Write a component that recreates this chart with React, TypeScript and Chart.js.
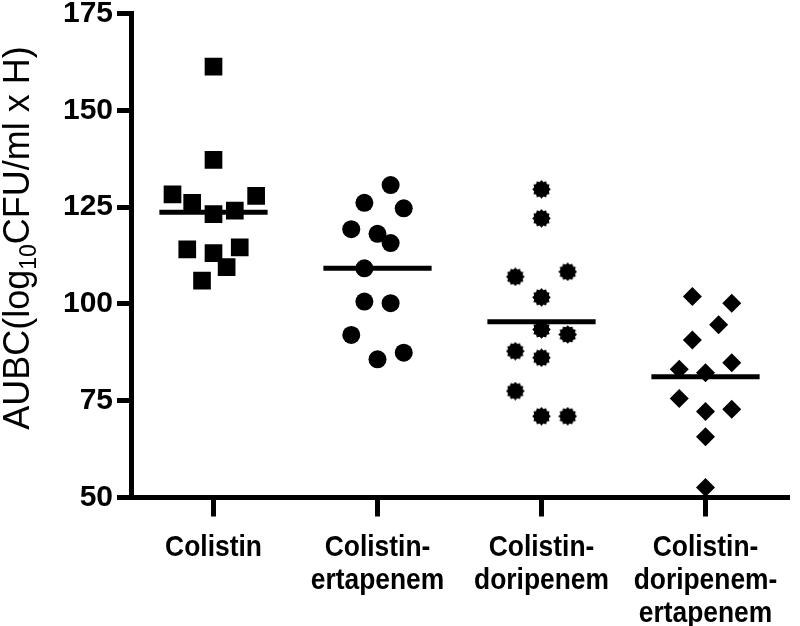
import React, { useEffect, useRef } from "react";
import { Chart, registerables } from "chart.js";

Chart.register(...registerables);

// ---- data ----
const categories: string[][] = [
  ["Colistin"],
  ["Colistin-", "ertapenem"],
  ["Colistin-", "doripenem"],
  ["Colistin-", "doripenem-", "ertapenem"],
];
const yTicks = [50, 75, 100, 125, 150, 175];

const colistinValues = [161.3, 137.2, 128.3, 126.1, 127.9, 123.2, 124.1, 114.1, 113.1, 114.6, 109.5, 106.0];
const colistinJitter = [0, 0, -0.25, -0.13, 0.26, 0, 0.13, -0.16, 0, 0.16, 0.08, -0.07];

const colErtValues = [130.7, 126.1, 124.7, 119.3, 118.1, 115.7, 109.2, 100.6, 100.2, 92.0, 85.7, 87.4];
const colErtJitter = [0.08, -0.08, 0.16, -0.16, 0, 0.08, -0.08, -0.08, 0.08, -0.16, 0, 0.16];

const colDorValues = [129.6, 122.1, 107.0, 108.3, 101.7, 93.4, 92.1, 87.8, 86.1, 77.5, 71.0, 71.0];
const colDorJitter = [0, 0, -0.16, 0.16, 0, 0, 0.16, -0.16, 0, -0.16, 0, 0.16];

const colDorErtValues = [101.9, 100.2, 94.6, 90.7, 84.8, 83.1, 82.2, 75.6, 72.2, 72.8, 65.7, 52.6];
const colDorErtJitter = [-0.08, 0.16, 0.08, -0.08, 0.16, -0.16, 0, -0.16, 0, 0.16, 0, 0];

const meanValues = [123.7, 109.2, 95.4, 81.2];

const groupValues = [colistinValues, colErtValues, colDorValues, colDorErtValues];
const groupJitter = [colistinJitter, colErtJitter, colDorJitter, colDorErtJitter];

// ---- styles ----
const FONT = "'Liberation Sans', Arial, Helvetica, sans-serif";
const MEAN_HALF = 0.33;

function makeGear(): HTMLCanvasElement {
  const c = document.createElement("canvas");
  const s = 19;
  c.width = s;
  c.height = s;
  const g = c.getContext("2d")!;
  const cx = s / 2;
  const cy = s / 2;
  g.fillStyle = "#000";
  g.beginPath();
  const teeth = 12;
  for (let i = 0; i < teeth * 2; i++) {
    const r = i % 2 === 0 ? 9.3 : 7.6;
    const a = (i / (teeth * 2)) * Math.PI * 2;
    const x = cx + r * Math.cos(a);
    const y = cy + r * Math.sin(a);
    if (i === 0) g.moveTo(x, y);
    else g.lineTo(x, y);
  }
  g.closePath();
  g.fill();
  return c;
}

// y-axis title with a real subscript
const yTitlePlugin = {
  id: "yTitle",
  afterDraw(chart: any) {
    const ctx = chart.ctx as CanvasRenderingContext2D;
    const main = 36;
    const sub = 23;
    const parts = [
      { t: "AUBC(log", size: main, dy: 0 },
      { t: "10", size: sub, dy: 7 },
      { t: "CFU/ml x H)", size: main, dy: 0 },
    ];
    ctx.save();
    let total = 0;
    for (const p of parts) {
      ctx.font = `${p.size}px ${FONT}`;
      total += ctx.measureText(p.t).width;
    }
    ctx.translate(29, 238);
    ctx.rotate(-Math.PI / 2);
    ctx.fillStyle = "#000";
    ctx.textBaseline = "alphabetic";
    ctx.textAlign = "left";
    let x = -total / 2;
    for (const p of parts) {
      ctx.font = `${p.size}px ${FONT}`;
      ctx.fillText(p.t, x, p.dy);
      x += ctx.measureText(p.t).width;
    }
    ctx.restore();
  },
};

// x-axis category labels (slightly condensed bold text, as in the reference)
const xLabelPlugin = {
  id: "xLabels",
  afterDraw(chart: any) {
    const ctx = chart.ctx as CanvasRenderingContext2D;
    const xs = chart.scales.x;
    const first = xs.top + 58;
    const lh = 33;
    ctx.save();
    ctx.fillStyle = "#000";
    ctx.font = `bold 30px ${FONT}`;
    ctx.textAlign = "center";
    ctx.textBaseline = "alphabetic";
    categories.forEach((lines, i) => {
      const px = xs.getPixelForValue(i + 1);
      lines.forEach((line, j) => {
        ctx.save();
        ctx.translate(px, first + j * lh);
        ctx.scale(0.88, 1);
        ctx.fillText(line, 0, 0);
        ctx.restore();
      });
    });
    ctx.restore();
  },
};

export default function App() {
  const ref = useRef<HTMLCanvasElement | null>(null);

  useEffect(() => {
    if (!ref.current) return;
    const gear = makeGear();
    const styles: any[] = [
      { pointStyle: "rect", radius: 12.5 },
      { pointStyle: "circle", radius: 9 },
      { pointStyle: gear, radius: 9.5 },
      { pointStyle: "rectRot", radius: 9.5 },
    ];

    const pointSets = groupValues.map((vals, gi) => ({
      type: "scatter" as const,
      data: vals.map((v, i) => ({ x: gi + 1 + groupJitter[gi][i], y: v })),
      pointStyle: styles[gi].pointStyle,
      pointRadius: styles[gi].radius,
      pointHoverRadius: styles[gi].radius,
      pointBackgroundColor: "#000",
      pointBorderColor: "#000",
      pointBorderWidth: 0,
      showLine: false,
    }));

    const meanSets = meanValues.map((m, gi) => ({
      type: "line" as const,
      data: [
        { x: gi + 1 - MEAN_HALF, y: m },
        { x: gi + 1 + MEAN_HALF, y: m },
      ],
      borderColor: "#000",
      borderWidth: 5,
      pointRadius: 0,
      fill: false,
    }));

    const chart = new Chart(ref.current, {
      type: "scatter",
      data: { datasets: [...meanSets, ...pointSets] as any },
      plugins: [yTitlePlugin, xLabelPlugin],
      options: {
        animation: false,
        responsive: false,
        events: [],
        layout: { padding: { top: 13.5, right: 4, left: 0, bottom: 0 } },
        plugins: { legend: { display: false }, tooltip: { enabled: false } },
        scales: {
          x: {
            type: "linear",
            min: 0.5,
            max: 4.5,
            afterBuildTicks: (axis: any) => {
              axis.ticks = categories.map((_, i) => ({ value: i + 1 }));
            },
            afterFit: (scale: any) => {
              scale.height = 128.5;
              scale.paddingLeft = 0;
              scale.paddingRight = 0;
            },
            grid: {
              display: true,
              drawOnChartArea: false,
              drawTicks: true,
              tickLength: 19,
              lineWidth: 5,
              color: "#000",
            },
            border: { display: true, width: 5, color: "#000" },
            ticks: { display: false },
          },
          y: {
            type: "linear",
            min: 50,
            max: 175,
            afterBuildTicks: (axis: any) => {
              axis.ticks = yTicks.map((v) => ({ value: v }));
            },
            afterFit: (scale: any) => {
              scale.width = 131.5;
              scale.paddingTop = 0;
              scale.paddingBottom = 0;
            },
            grid: {
              display: true,
              drawOnChartArea: false,
              drawTicks: true,
              tickLength: 14.5,
              lineWidth: 5,
              color: "#000",
            },
            border: { display: true, width: 5, color: "#000" },
            ticks: {
              padding: 4,
              color: "#000",
              font: { family: FONT, size: 30, weight: "bold" },
            },
          },
        },
      } as any,
    });
    return () => chart.destroy();
  }, []);

  return (
    <div style={{ position: "fixed", left: 0, top: 0, width: 800, height: 626, background: "#fff" }}>
      <canvas ref={ref} width={800} height={626} style={{ width: 800, height: 626, display: "block" }} />
    </div>
  );
}
